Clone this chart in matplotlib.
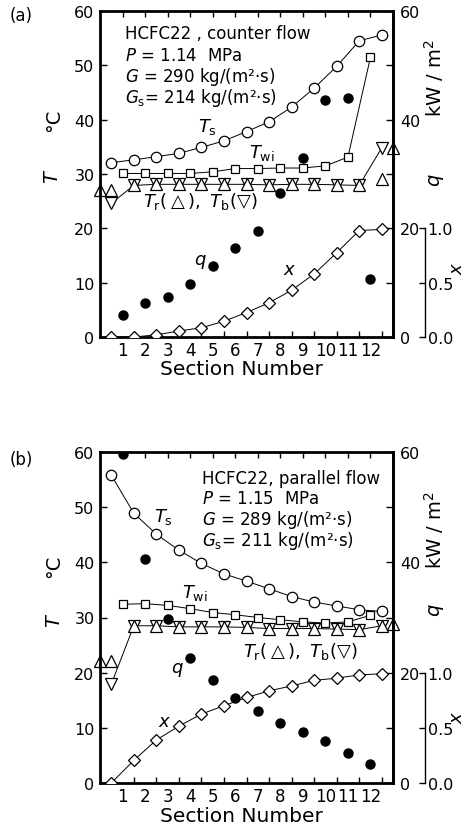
import numpy as np
import matplotlib
matplotlib.use("Agg")
import matplotlib.pyplot as plt

plt.rcParams['font.family'] = ['DejaVu Sans']
plt.rcParams['mathtext.fontset'] = 'dejavusans'

W, H = 467, 828

# measurement positions: section boundaries and section centres
edge_pos = [0.5, 1.5, 2.5, 3.5, 4.5, 5.5, 6.5, 7.5, 8.5, 9.5, 10.5, 11.5, 12.5]
mid_pos = [1, 2, 3, 4, 5, 6, 7, 8, 9, 10, 11, 12]
tr_pos = [0.0] + edge_pos + [13.0]
section_labels = ['1', '2', '3', '4', '5', '6', '7', '8', '9', '10', '11', '12']

# (a) counter flow
ts_a = [32.1, 32.6, 33.2, 33.8, 34.9, 36.1, 37.8, 39.6, 42.3, 45.8, 49.8, 54.5, 55.6]
twi_a = [30.1, 30.1, 30.1, 30.1, 30.4, 31.0, 31.0, 31.1, 31.1, 31.5, 33.1, 51.5]
tr_a = [27.1, 27.1, 27.9, 28.1, 28.1, 28.1, 28.1, 28.1, 28.0, 28.1, 28.1, 28.0, 27.9, 29.1, 34.8]
tb_a = [24.6, 27.9, 28.1, 28.1, 28.1, 28.1, 28.1, 28.0, 28.1, 28.1, 28.0, 27.9, 34.8]
q_a = [4.1, 6.2, 7.4, 9.8, 13.0, 16.3, 19.6, 26.5, 32.9, 43.7, 43.9, 10.7]
x_a = [0.0, 0.0, 0.02, 0.055, 0.085, 0.145, 0.225, 0.315, 0.43, 0.58, 0.775, 0.98, 0.99]

# (b) parallel flow
ts_b = [55.8, 48.9, 45.1, 42.2, 39.8, 37.9, 36.6, 35.2, 33.8, 32.8, 32.1, 31.4, 31.1]
twi_b = [32.4, 32.5, 32.2, 31.6, 30.9, 30.5, 30.0, 29.6, 29.2, 29.0, 29.2, 30.4]
tr_b = [22.2, 22.2, 28.5, 28.5, 28.3, 28.3, 28.3, 28.2, 28.0, 28.0, 28.0, 27.9, 27.8, 28.5, 28.8]
tb_b = [17.9, 28.5, 28.5, 28.3, 28.3, 28.3, 28.2, 28.0, 28.0, 28.0, 27.9, 27.8, 28.5]
q_b = [59.7, 40.6, 29.8, 22.6, 18.6, 15.4, 13.1, 10.8, 9.3, 7.7, 5.4, 3.5]
x_b = [0.0, 0.205, 0.39, 0.515, 0.625, 0.70, 0.775, 0.835, 0.88, 0.93, 0.95, 0.98, 0.99]


def fx(px):
    return px / W


def fy(py):
    return 1 - py / H


def draw_panel(fig, top, bottom, ts, twi, tr, tb, q, x):
    ax = fig.add_axes([fx(100), fy(bottom), fx(393) - fx(100), fy(top) - fy(bottom)])
    ax.set_xlim(0, 13)
    ax.set_ylim(0, 60)
    for s in ax.spines.values():
        s.set_linewidth(2)
    ax.set_xticks(mid_pos)
    ax.set_xticklabels(section_labels, fontsize=12)
    ax.tick_params(axis='x', which='major', direction='in', bottom=False, top=True,
                   length=4, width=1, pad=3)
    ax.set_xticks(edge_pos, minor=True)
    ax.tick_params(axis='x', which='minor', direction='in', bottom=True, top=False,
                   length=4, width=1)
    ax.set_yticks(range(0, 61, 10))
    ax.tick_params(axis='y', direction='in', left=True, right=False, length=5, width=1,
                   labelsize=11.5, pad=4)

    line_kw = dict(color='black', lw=0.7, mfc='white', mec='black', mew=0.9)
    ax.plot(edge_pos, ts, 'o-', ms=7.5, **line_kw)
    ax.plot(mid_pos, twi, 's-', ms=6, **line_kw)
    ax.plot(edge_pos, tb, 'v-', ms=8, clip_on=False, **line_kw)
    ax.plot(tr_pos, tr, '^', ms=8, clip_on=False, **line_kw)

    # heat flux axis (right)
    axq = ax.twinx()
    axq.set_ylim(0, 60)
    for side in ['left', 'top', 'bottom']:
        axq.spines[side].set_visible(False)
    axq.spines['right'].set_linewidth(2)
    axq.set_yticks(range(0, 61, 10))
    axq.set_yticklabels(['0', '', '20', '', '40', '', '60'])
    axq.tick_params(axis='y', direction='in', length=5, width=1, labelsize=11.5, pad=5)
    axq.plot(mid_pos, q, 'o', ms=6.5, color='black')

    # quality axis (offset right)
    axx = ax.twinx()
    axx.set_ylim(0, 3)
    for side in ['left', 'top', 'bottom']:
        axx.spines[side].set_visible(False)
    axx.spines['right'].set_position(('outward', 23))
    axx.spines['right'].set_bounds(0, 1)
    axx.spines['right'].set_linewidth(1)
    axx.set_yticks([0, 0.5, 1.0])
    axx.set_yticklabels(['0.0', '0.5', '1.0'])
    axx.tick_params(axis='y', direction='in', length=4, width=1, labelsize=11.5, pad=2)
    axx.plot(edge_pos, x, 'D-', ms=6, **line_kw)
    return ax


fig = plt.figure(figsize=(W / 100, H / 100), dpi=100)

# panel (a)
draw_panel(fig, 12, 338, ts_a, twi_a, tr_a, tb_a, q_a, x_a)
fig.text(fx(21), fy(16), '(a)', fontsize=12, ha='center', va='center')
fig.text(fx(125), fy(39), 'HCFC22 , counter flow', fontsize=12, va='baseline')
fig.text(fx(125), fy(61), '$P$ = 1.14  MPa', fontsize=12, va='baseline')
fig.text(fx(125), fy(82), '$G$ = 290 kg/(m²·s)', fontsize=12, va='baseline')
fig.text(fx(125), fy(103), '$G_{\\rm s}$= 214 kg/(m²·s)', fontsize=12, va='baseline')
fig.text(fx(207), fy(127), '$T_{\\rm s}$', fontsize=13, ha='center', va='center')
fig.text(fx(262), fy(153), '$T_{\\rm wi}$', fontsize=13, ha='center', va='center')
fig.text(fx(143), fy(202), '$T_{\\rm r}(\\triangle),\\ T_{\\rm b}(\\bigtriangledown)$',
         fontsize=13, va='center')
fig.text(fx(200), fy(262), '$q$', fontsize=13, ha='center', va='center')
fig.text(fx(290), fy(270), '$x$', fontsize=13, ha='center', va='center')
fig.text(fx(53), fy(176), '$T$', fontsize=14, rotation=90, ha='center', va='center')
fig.text(fx(54), fy(120), '°C', fontsize=14, rotation=90, ha='center', va='center')
fig.text(fx(437), fy(180), '$q$', fontsize=14, rotation=90, ha='center', va='center')
fig.text(fx(434), fy(78), 'kW / m$^2$', fontsize=14, rotation=90, ha='center', va='center')
fig.text(fx(457), fy(268), '$x$', fontsize=13, rotation=90, ha='center', va='center')
fig.text(fx(241), fy(370), 'Section Number', fontsize=14.5, ha='center', va='center')

# panel (b)
draw_panel(fig, 453, 784, ts_b, twi_b, tr_b, tb_b, q_b, x_b)
fig.text(fx(21), fy(460), '(b)', fontsize=12, ha='center', va='center')
fig.text(fx(202), fy(484), 'HCFC22, parallel flow', fontsize=12, va='baseline')
fig.text(fx(202), fy(504.5), '$P$ = 1.15  MPa', fontsize=12, va='baseline')
fig.text(fx(202), fy(525), '$G$ = 289 kg/(m²·s)', fontsize=12, va='baseline')
fig.text(fx(202), fy(546), '$G_{\\rm s}$= 211 kg/(m²·s)', fontsize=12, va='baseline')
fig.text(fx(163), fy(517), '$T_{\\rm s}$', fontsize=13, ha='center', va='center')
fig.text(fx(195), fy(593), '$T_{\\rm wi}$', fontsize=13, ha='center', va='center')
fig.text(fx(243), fy(652), '$T_{\\rm r}(\\triangle),\\ T_{\\rm b}(\\bigtriangledown)$',
         fontsize=13, va='center')
fig.text(fx(177), fy(670), '$q$', fontsize=13, ha='center', va='center')
fig.text(fx(165), fy(722), '$x$', fontsize=13, ha='center', va='center')
fig.text(fx(55), fy(620), '$T$', fontsize=14, rotation=90, ha='center', va='center')
fig.text(fx(54), fy(566), '°C', fontsize=14, rotation=90, ha='center', va='center')
fig.text(fx(437), fy(610), '$q$', fontsize=14, rotation=90, ha='center', va='center')
fig.text(fx(434), fy(530), 'kW / m$^2$', fontsize=14, rotation=90, ha='center', va='center')
fig.text(fx(457), fy(717), '$x$', fontsize=13, rotation=90, ha='center', va='center')
fig.text(fx(241), fy(817), 'Section Number', fontsize=14.5, ha='center', va='center')

fig.savefig('out.png', dpi=100)
